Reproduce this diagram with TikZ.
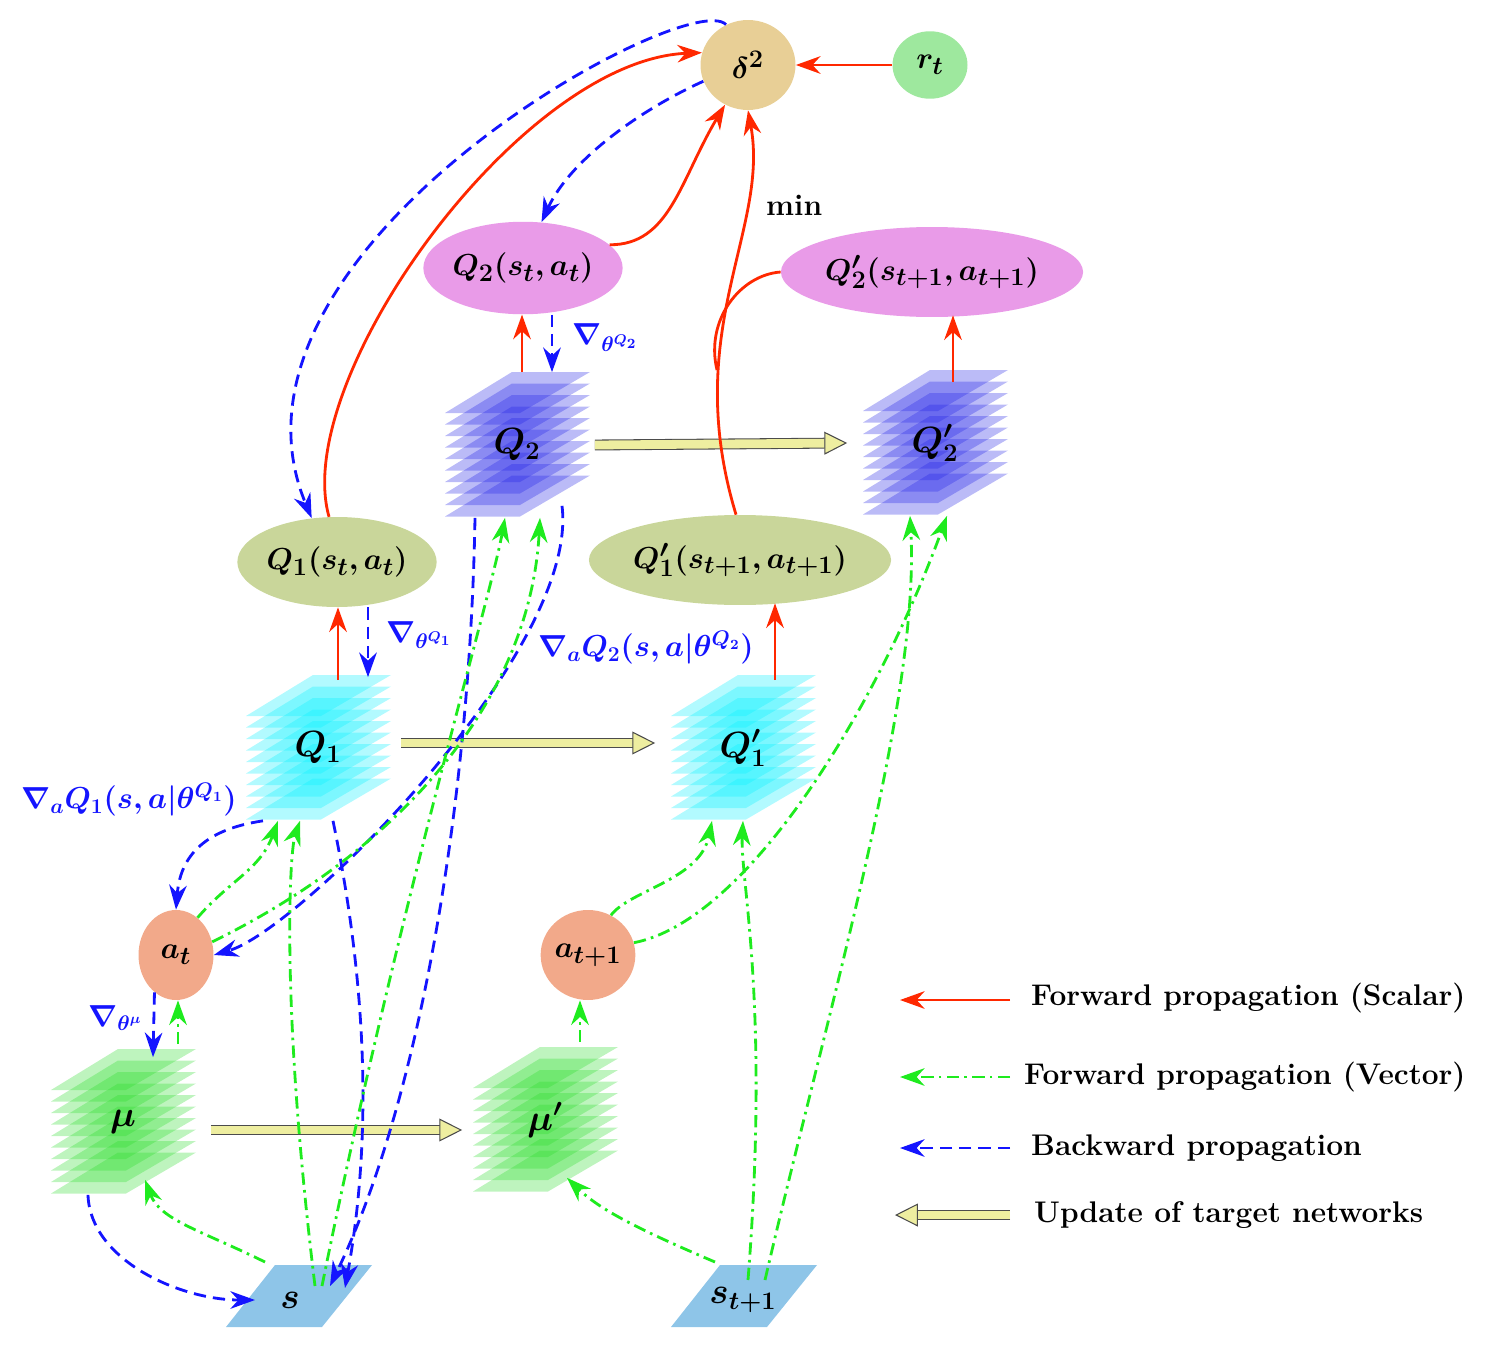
\documentclass[tikz,border=0pt]{standalone}
\usepackage{bm}
\usetikzlibrary{shapes.geometric,arrows.meta,calc}
\definecolor{fwdred}{RGB}{255,40,0}
\definecolor{bwdblue}{RGB}{20,20,255}
\definecolor{vecgreen}{RGB}{30,235,30}
\definecolor{deltac}{RGB}{232,207,150}
\definecolor{rtc}{RGB}{158,232,158}
\definecolor{qtwoc}{RGB}{233,155,232}
\definecolor{qonec}{RGB}{201,214,154}
\definecolor{actc}{RGB}{242,169,138}
\definecolor{statec}{RGB}{142,197,232}
\definecolor{updc}{RGB}{238,238,160}
\definecolor{layblue}{RGB}{30,30,230}
\definecolor{laycyan}{RGB}{0,240,255}
\definecolor{laygreen}{RGB}{40,220,40}
\tikzset{
  ell/.style={ellipse,inner sep=0pt,font=\fontsize{19}{23}\selectfont},
  fwd/.style={draw=fwdred,line width=1.6pt,-{Stealth[length=14pt,width=10pt]}},
  bwd/.style={draw=bwdblue,line width=1.6pt,dash pattern=on 7pt off 4pt,-{Stealth[length=14pt,width=10pt]}},
  vec/.style={draw=vecgreen,line width=1.6pt,dash pattern=on 7pt off 3pt on 1.5pt off 3pt,-{Stealth[length=14pt,width=10pt]}},
  upd/.style={draw=black!70,line width=0.6pt,double=updc,double distance=5pt,-{Triangle[open,length=13pt,width=13pt,fill=updc]}},
  grad/.style={text=bwdblue,anchor=west,font=\fontsize{17}{20}\selectfont},
  stackbox/.style={rectangle,minimum width=2.9cm,minimum height=2.9cm,inner sep=0pt,font=\fontsize{20}{24}\selectfont},
  legend/.style={anchor=west,font=\fontsize{17}{20}\selectfont\bfseries}
}
% stack of layers: name, x, y, colour, label
\newcommand\netstack[5]{%
  \begin{scope}[shift={(#2,#3)}]
    \foreach \k in {0,...,9}
      \fill[#4,fill opacity=0.3] (-5,-73+11.5*\k) -- (73,-73+11.5*\k) -- (3,-32+11.5*\k) -- (-72,-32+11.5*\k) -- cycle;
  \end{scope}
  \node[stackbox] (#1) at (#2,#3) {#5};}
% input slab: x, y, colour
\newcommand\inslab[3]{%
  \fill[#3,shift={(#1,#2)}] (-23,-31) -- (74,-31) -- (24,31) -- (-72,31) -- cycle;}
\begin{document}
\begin{tikzpicture}[x=0.02cm,y=-0.02cm]
\useasboundingbox (0,0) rectangle (1487,1345);
% networks
\netstack{Q2s}{517}{445}{layblue}{$\bm{Q_2}$}
\netstack{Q2ps}{935}{443}{layblue}{$\bm{Q'_2}$}
\netstack{Q1s}{318}{748}{laycyan}{$\bm{Q_1}$}
\netstack{Q1ps}{743}{748}{laycyan}{$\bm{Q'_1}$}
\netstack{mus}{123}{1122}{laygreen}{$\bm{\mu}$}
\netstack{mups}{545}{1120}{laygreen}{$\bm{\mu'}$}
\inslab{298}{1296}{statec}
\inslab{743}{1296}{statec}
\node[font=\fontsize{20}{24}\selectfont] (s) at (290,1300) {$\bm{s}$};
\node[font=\fontsize{20}{24}\selectfont] (sp) at (743,1300) {$\bm{s_{t+1}}$};
% values
\node[ell,fill=deltac,minimum width=1.9cm,minimum height=1.8cm] (d2) at (748,65) {$\bm{\delta^2}$};
\node[ell,fill=rtc,minimum width=1.5cm,minimum height=1.35cm] (rt) at (930,65) {$\bm{r_t}$};
\node[ell,fill=qtwoc,minimum width=3.6cm,minimum height=1.85cm] (Q2e) at (523,268) {$\bm{Q_2(s_t,a_t)}$};
\node[ell,fill=qtwoc,minimum width=5.5cm,minimum height=1.8cm] (Q2pe) at (932,272) {$\bm{Q'_2(s_{t+1},a_{t+1})}$};
\node[ell,fill=qonec,minimum width=3.6cm,minimum height=1.8cm] (Q1e) at (337,562) {$\bm{Q_1(s_t,a_t)}$};
\node[ell,fill=qonec,minimum width=4.8cm,minimum height=1.8cm] (Q1pe) at (740,560) {$\bm{Q'_1(s_{t+1},a_{t+1})}$};
\node[ell,fill=actc,minimum width=1.5cm,minimum height=1.8cm] (at) at (176,955) {$\bm{a_t}$};
\node[ell,fill=actc,minimum width=1.5cm,minimum height=1.8cm] (atp) at (588,955) {$\bm{a_{t+1}}$};
\coordinate (jn) at (717,370);
% target updates
\draw[upd] ($(Q1s.east)+(10,-5)$) -- ($(Q1ps.west)+(-15,-5)$);
\draw[upd] ($(Q2s.east)+(5,0)$) -- ($(Q2ps.west)+(-15,0)$);
\draw[upd] ($(mus.east)+(15,8)$) -- ($(mups.west)+(-10,10)$);
% forward (scalar)
\draw[fwd] (Q1e.100) .. controls (290,380) and (520,60) .. (d2.165);
\draw[fwd] (Q2e.15) .. controls (670,245) and (680,180) .. (d2.240);
\draw[fwd] (Q1pe.95) .. controls (680,330) and (770,230) .. (d2.south);
\draw[draw=fwdred,line width=1.6pt] (Q2pe.west) .. controls (740,275) and (705,320) .. (jn);
\draw[fwd] (rt.west) -- (d2.east);
\draw[fwd] ($(Q1s.north)+(20,5)$) -- ($(Q1e.south)+(1,0)$);
\draw[fwd] ($(Q2s.north)+(5,0)$) -- ($(Q2e.south)+(-1,0)$);
\draw[fwd] ($(Q1ps.north)+(32,5)$) -- ($(Q1pe.south)+(35,-2)$);
\draw[fwd] ($(Q2ps.north)+(18,12)$) -- ($(Q2pe.south)+(21,-2)$);
% backward
\draw[bwd] ($(d2.north)+(-22,5)$) .. controls (690,-15) and (200,250) .. (Q1e.120);
\draw[bwd] (d2.200) .. controls (640,110) and (570,160) .. (Q2e.68);
\draw[bwd] ($(Q2e.south)+(29,0)$) -- ($(Q2s.north)+(35,0)$);
\draw[bwd] ($(Q1e.south)+(31,0)$) -- ($(Q1s.north)+(50,2)$);
\draw[bwd] ($(Q1s.south)+(-55,0)$) .. controls (200,830) and (180,860) .. (at.north);
\draw[bwd] ($(Q2s.south)+(45,-12)$) .. controls (580,650) and (300,930) .. (at.east);
\draw[bwd] (at.240) -- ($(mus.north)+(30,8)$);
\draw[bwd] ($(mus.south)+(-35,0)$) .. controls (90,1260) and (180,1300) .. ($(s)+(-35,0)$);
\draw[bwd] ($(Q1s.south)+(15,0)$) .. controls (370,1000) and (370,1150) .. ($(s)+(55,-12)$);
\draw[bwd] ($(Q2s.south)+(-42,0)$) .. controls (470,800) and (420,1100) .. ($(s)+(40,-14)$);
% forward (vector)
\draw[vec] ($(mus.north)+(55,-5)$) -- ($(at.south)+(2,0)$);
\draw[vec] (at.60) .. controls (230,880) and (260,870) .. ($(Q1s.south)+(-40,0)$);
\draw[vec] (at.20) .. controls (400,850) and (530,700) .. ($(Q2s.south)+(23,0)$);
\draw[vec] ($(s)+(-25,-38)$) .. controls (200,1230) and (160,1220) .. ($(mus.south)+(22,-15)$);
\draw[vec] ($(s)+(25,-14)$) .. controls (280,1000) and (290,850) .. ($(Q1s.south)+(-18,0)$);
\draw[vec] ($(s)+(32,-14)$) .. controls (400,900) and (490,600) .. ($(Q2s.south)+(-12,0)$);
\draw[vec] (atp.60) .. controls (630,890) and (700,880) .. ($(Q1ps.south)+(-31,0)$);
\draw[vec] (atp.15) .. controls (750,920) and (880,700) .. ($(Q2ps.south)+(12,0)$);
\draw[vec] ($(mups.north)+(35,-5)$) -- ($(atp.south)+(-8,0)$);
\draw[vec] ($(sp)+(-28,-38)$) .. controls (640,1230) and (600,1210) .. ($(mups.south)+(22,-15)$);
\draw[vec] ($(sp)+(5,-20)$) .. controls (770,1000) and (740,880) .. ($(Q1ps.south)+(0,0)$);
\draw[vec] ($(sp)+(22,-20)$) .. controls (830,1000) and (920,700) .. ($(Q2ps.south)+(-25,0)$);
% labels
\node[anchor=west,font=\fontsize{17}{20}\selectfont\bfseries] (mn) at (760,205) {min};
\node[grad] (g2) at (566,338) {$\bm{\nabla_{\theta^{Q_2}}}$};
\node[grad] (g1) at (380,635) {$\bm{\nabla_{\theta^{Q_1}}}$};
\node[grad] (ga2) at (532,648) {$\bm{\nabla_a Q_2(s,a|\theta^{Q_2})}$};
\node[grad] (ga1) at (15,800) {$\bm{\nabla_a Q_1(s,a|\theta^{Q_1})}$};
\node[grad] (gmu) at (82,1018) {$\bm{\nabla_{\theta^{\mu}}}$};
% legend
\coordinate (l1a) at (1010,1000); \coordinate (l1b) at (900,1000);
\coordinate (l2a) at (1010,1077); \coordinate (l2b) at (900,1077);
\coordinate (l3a) at (1010,1148); \coordinate (l3b) at (900,1148);
\coordinate (l4a) at (1010,1215); \coordinate (l4b) at (895,1215);
\draw[fwd] (l1a) -- (l1b);
\draw[vec] (l2a) -- (l2b);
\draw[bwd] (l3a) -- (l3b);
\draw[upd] (l4a) -- (l4b);
\node[legend] (t1) at (1025,998) {Forward propagation (Scalar)};
\node[legend] (t2) at (1018,1077) {Forward propagation (Vector)};
\node[legend] (t3) at (1025,1148) {Backward propagation};
\node[legend] (t4) at (1028,1215) {Update of target networks};
\end{tikzpicture}
\end{document}
